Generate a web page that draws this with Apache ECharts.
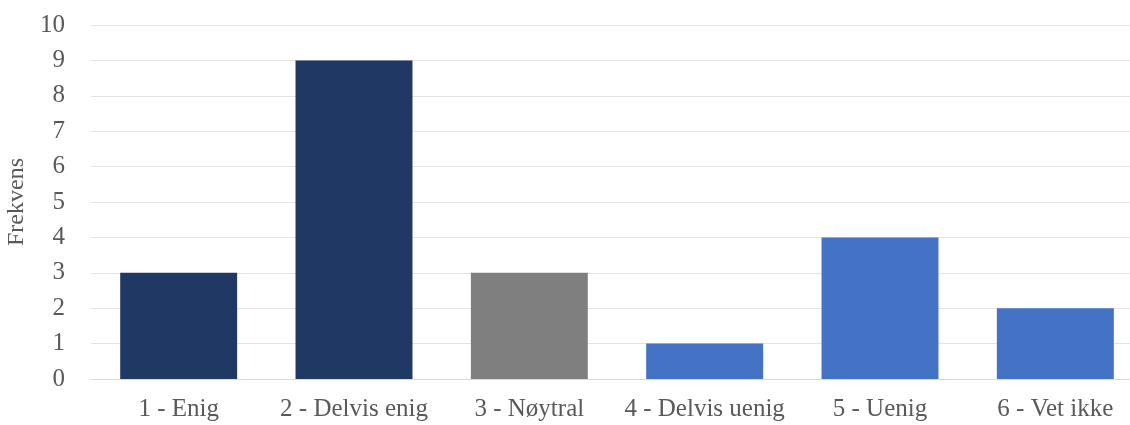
<!DOCTYPE html>
<html>
<head>
<meta charset="utf-8">
<script src="https://cdn.jsdelivr.net/npm/echarts@6/dist/echarts.min.js"></script>
<style>
  html, body { margin: 0; padding: 0; background: #fff; }
  #chart { width: 1130px; height: 425px; }
</style>
</head>
<body>
<div id="chart"></div>
<script>
// Response categories and their counts
const categories = ['1 - Enig', '2 - Delvis enig', '3 - Nøytral', '4 - Delvis uenig', '5 - Uenig', '6 - Vet ikke'];
const counts = [3, 9, 3, 1, 4, 2];
const barColors = ['#203864', '#203864', '#7f7f7f', '#4472c4', '#4472c4', '#4472c4'];
const yTicks = [0, 1, 2, 3, 4, 5, 6, 7, 8, 9, 10];

const font = '"Liberation Serif", "DejaVu Serif", serif';
const chart = echarts.init(document.getElementById('chart'), null, { renderer: 'canvas' });

chart.setOption({
  animation: false,
  grid: { left: 91, top: 25, width: 1052, height: 354, outerBoundsMode: 'none' },
  xAxis: {
    type: 'category',
    data: categories,
    axisLine: { lineStyle: { color: '#d9d9d9', width: 1 } },
    axisTick: { show: false },
    axisLabel: { color: '#595959', fontFamily: font, fontSize: 25, margin: 18, interval: 0 }
  },
  yAxis: {
    type: 'value',
    min: yTicks[0],
    max: yTicks[yTicks.length - 1],
    interval: 1,
    name: 'Frekvens',
    nameLocation: 'middle',
    nameGap: 57,
    nameRotate: 90,
    nameTextStyle: { color: '#595959', fontFamily: font, fontSize: 24 },
    axisLine: { show: false },
    axisTick: { show: false },
    axisLabel: { color: '#595959', fontFamily: font, fontSize: 25, margin: 26 },
    splitLine: { lineStyle: { color: '#e3e3e3', width: 1 } }
  },
  series: [{
    type: 'bar',
    data: counts.map((v, i) => ({ value: v, itemStyle: { color: barColors[i] } })),
    barWidth: '66.7%'
  }]
});
</script>
</body>
</html>
